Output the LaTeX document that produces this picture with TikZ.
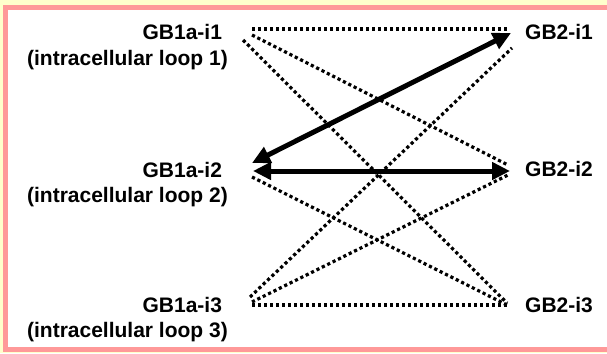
\documentclass[tikz,border=0pt]{standalone}
\usepackage{fontspec}
\setmainfont{Liberation Sans}
\usetikzlibrary{arrows.meta}
\definecolor{bgyellow}{RGB}{255,255,204}
\definecolor{framepink}{RGB}{255,153,153}
\begin{document}
\begin{tikzpicture}[x=1pt,y=-1pt,
  lbl/.style={font=\fontsize{21}{25}\selectfont\bfseries, inner sep=0pt, align=right, anchor=base east},
  rlbl/.style={font=\fontsize{21}{25}\selectfont\bfseries, inner sep=0pt, anchor=base west},
  dotline/.style={line width=3.2pt, dash pattern=on 3.2pt off 2.8pt},
  thickarrow/.style={line width=5pt, {Triangle[length=18pt,width=17pt]}-{Triangle[length=18pt,width=17pt]}}]
\useasboundingbox (0,0) rectangle (607,353);
\fill[bgyellow] (0,0) rectangle (607,353);
\draw[framepink, line width=5pt, fill=white] (5.8,7.5) rectangle (615,349);
% labels
\node[lbl] (l1) at (228,65) {GB1a-i1\hspace*{5.8pt}\\(intracellular loop 1)};
\node[lbl] (l2) at (228,202) {GB1a-i2\hspace*{5.8pt}\\(intracellular loop 2)};
\node[lbl] (l3) at (228,337) {GB1a-i3\hspace*{5.8pt}\\(intracellular loop 3)};
\node[rlbl] (r1) at (525,40) {GB2-i1};
\node[rlbl] (r2) at (525,176) {GB2-i2};
\node[rlbl] (r3) at (525,312) {GB2-i3};
% connector end points
\coordinate (l1a) at (252,29);
\coordinate (l1b) at (252,35);
\coordinate (l1c) at (243,40);
\coordinate (l2a) at (252,163);
\coordinate (l2b) at (253,171);
\coordinate (l2c) at (252,177);
\coordinate (l3a) at (250,297);
\coordinate (l3b) at (252,302);
\coordinate (l3c) at (252,305);
\coordinate (r1a) at (507,29);
\coordinate (r1b) at (511,33);
\coordinate (r1c) at (512,48);
\coordinate (r2a) at (508,165);
\coordinate (r2b) at (510,171);
\coordinate (r2c) at (508,175);
\coordinate (r3a) at (507,303);
\coordinate (r3b) at (507,305);
\coordinate (r3c) at (508,305);
% dotted connectors
\draw[dotline] (l1a) -- (r1a);
\draw[dotline] (l1b) -- (r2a);
\draw[dotline] (l1c) -- (r3a);
\draw[dotline] (l2c) -- (r3b);
\draw[dotline] (l3a) -- (r1c);
\draw[dotline] (l3b) -- (r2c);
\draw[dotline] (l3c) -- (r3c);
% thick arrows
\draw[thickarrow] (l2a) -- (r1b);
\draw[thickarrow] (l2b) -- (r2b);
\end{tikzpicture}
\end{document}
